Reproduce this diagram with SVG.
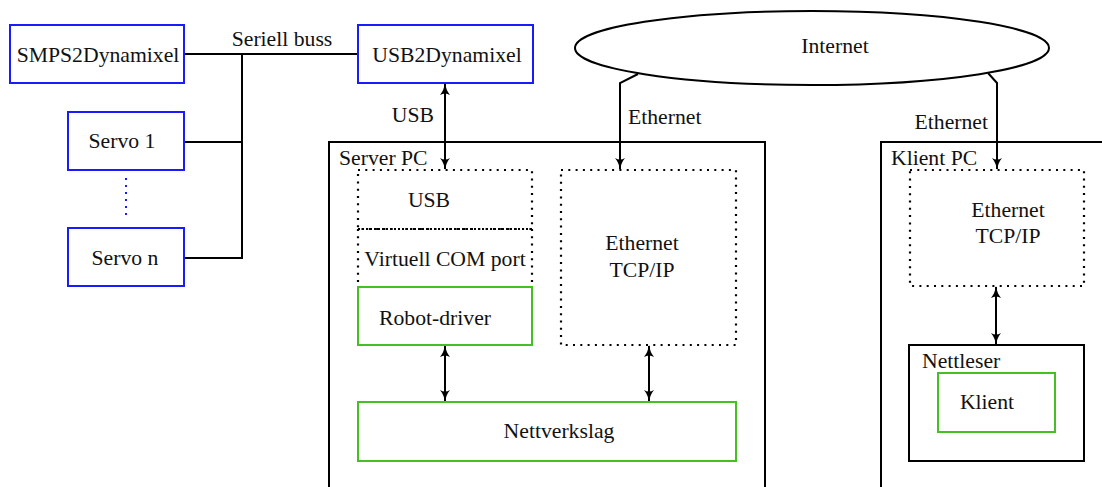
<svg xmlns="http://www.w3.org/2000/svg" width="1102" height="487" viewBox="0 0 1102 487">
<style>
text{font-family:"Liberation Serif","Times New Roman",serif;font-size:21.7px;fill:#111}
.c{text-anchor:middle}
.e{text-anchor:end}
.blue{fill:#fff;stroke:#1a1aff;stroke-width:2}
.green{fill:#fff;stroke:#44c022;stroke-width:2}
.blk{fill:none;stroke:#000;stroke-width:2}
.dot{fill:none;stroke:#000;stroke-width:2.2;stroke-dasharray:2 5.3;stroke-linecap:butt}
.ln{fill:none;stroke:#000;stroke-width:2}
.arr{fill:none;stroke:#000;stroke-width:2;marker-end:url(#ah)}
.arr2{fill:none;stroke:#000;stroke-width:2;marker-start:url(#ahs);marker-end:url(#ah)}
</style>
<defs>
<marker id="ah" viewBox="0 0 12 10" refX="11" refY="5" markerWidth="12" markerHeight="10" markerUnits="userSpaceOnUse" orient="auto">
<path d="M0,0 Q5,4 12,5 Q5,6 0,10 Q3,5 0,0 Z" fill="#000"/>
</marker>
<marker id="ahs" viewBox="0 0 12 10" refX="1" refY="5" markerWidth="12" markerHeight="10" markerUnits="userSpaceOnUse" orient="auto">
<path d="M12,0 Q7,4 0,5 Q7,6 12,10 Q9,5 12,0 Z" fill="#000"/>
</marker>
</defs>

<g id="internet">
<ellipse cx="812" cy="48" rx="237" ry="37" fill="#fff" stroke="#000" stroke-width="2"/>
<text x="835" y="53" class="c">Internet</text>
</g>

<g id="connectors">
<line class="ln" x1="184" y1="54" x2="358" y2="54"/>
<polyline class="ln" points="242,54 242,258 184,258"/>
<line class="ln" x1="184" y1="142" x2="242" y2="142"/>
<line x1="126" y1="178" x2="126" y2="220" stroke="#1a1aff" stroke-width="2" stroke-dasharray="2 5"/>
<line class="arr2" x1="445" y1="84" x2="445" y2="169"/>
<polyline class="arr" points="638,74 620,83 620,169"/>
<polyline class="arr" points="988,73 997,83 997,169"/>
<line class="arr2" x1="445" y1="346" x2="445" y2="401"/>
<line class="arr2" x1="649" y1="346" x2="649" y2="401"/>
<line class="arr2" x1="996" y1="287" x2="996" y2="344"/>
<text x="282" y="46" class="c">Seriell buss</text>
<text x="434" y="122" class="e">USB</text>
<text x="628" y="124">Ethernet</text>
<text x="988" y="129" class="e">Ethernet</text>
</g>

<g id="smps2dynamixel">
<rect class="blue" x="10" y="25" width="174" height="58"/>
<text x="98" y="62" class="c">SMPS2Dynamixel</text>
</g>
<g id="servo1">
<rect class="blue" x="68" y="112" width="116" height="58"/>
<text x="122" y="148" class="c">Servo 1</text>
</g>
<g id="servon">
<rect class="blue" x="68" y="228" width="116" height="58"/>
<text x="125" y="265" class="c">Servo n</text>
</g>
<g id="usb2dynamixel">
<rect class="blue" x="358" y="25" width="175" height="58"/>
<text x="447" y="62" class="c">USB2Dynamixel</text>
</g>

<g id="serverpc">
<rect class="blk" x="329" y="142" width="436" height="360"/>
<text x="339" y="165">Server PC</text>
</g>
<g id="usb">
<rect class="dot" x="358" y="170" width="174" height="59"/>
<text x="429" y="207" class="c">USB</text>
</g>
<g id="virtuellcom">
<line x1="358" y1="229" x2="532" y2="229" stroke="#000" stroke-width="2" stroke-dasharray="2 2"/>
<polyline class="dot" points="358,229 358,287"/>
<polyline class="dot" points="532,229 532,287"/>
<text x="445" y="266" class="c">Virtuell COM port</text>
</g>
<g id="robotdriver">
<rect class="green" x="358" y="287" width="174" height="58"/>
<text x="435" y="325" class="c">Robot-driver</text>
</g>
<g id="ethernet-server">
<rect class="dot" x="561" y="170" width="175" height="175"/>
<text x="642" y="250" class="c">Ethernet</text>
<text x="642" y="277" class="c">TCP/IP</text>
</g>
<g id="nettverkslag">
<rect class="green" x="358" y="402" width="378" height="59"/>
<text x="559" y="438" class="c">Nettverkslag</text>
</g>

<g id="klientpc">
<rect class="blk" x="881" y="142" width="260" height="360"/>
<text x="891" y="165">Klient PC</text>
</g>
<g id="ethernet-klient">
<rect class="dot" x="910" y="170" width="174" height="116"/>
<text x="1008" y="217" class="c">Ethernet</text>
<text x="1008" y="243" class="c">TCP/IP</text>
</g>
<g id="nettleser">
<rect class="blk" x="909" y="345" width="175" height="116"/>
<text x="922" y="368">Nettleser</text>
</g>
<g id="klient">
<rect class="green" x="938" y="373" width="117" height="59"/>
<text x="987" y="409" class="c">Klient</text>
</g>
</svg>
